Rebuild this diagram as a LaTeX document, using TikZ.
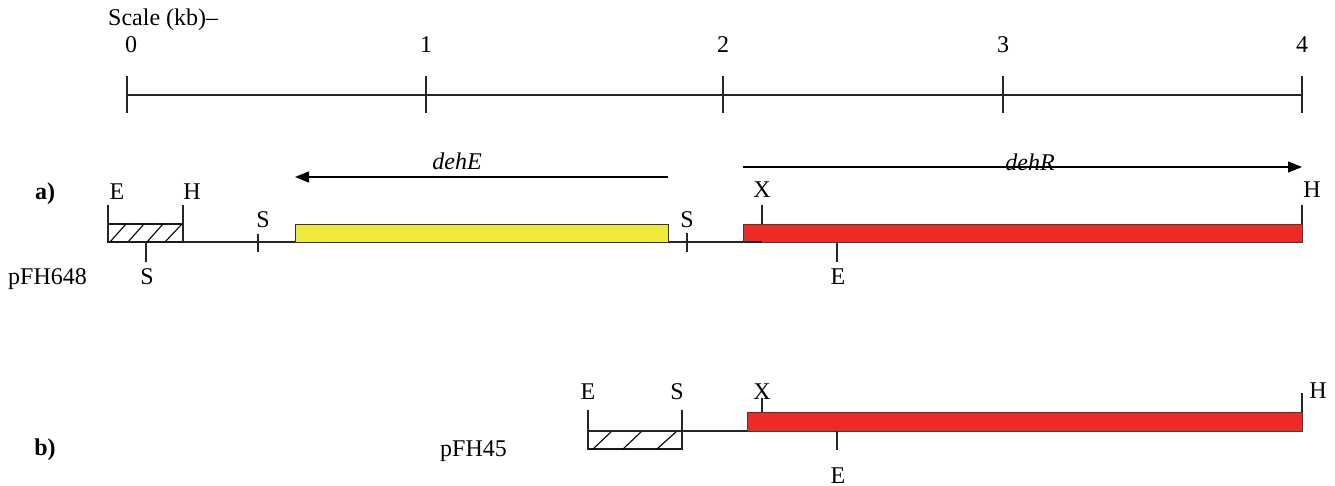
\documentclass[tikz,border=0pt]{standalone}
\usepackage{fontspec}
\setmainfont{Liberation Serif}
\usetikzlibrary{arrows.meta}
\definecolor{geneyellow}{HTML}{F0E93C}
\definecolor{genered}{HTML}{EE2A26}
\definecolor{rededge}{HTML}{404030}
\begin{document}
\begin{tikzpicture}[x=1pt,y=-1pt,font=\fontsize{24}{28}\selectfont,
  lbl/.style={inner sep=0pt,anchor=base},
  ln/.style={line width=1.3pt,draw=black!85},
  tickln/.style={line width=1.3pt,draw=black!85},
  hatchbox/.style={line width=1.3pt,draw=black!90,fill=white},
  yellowbox/.style={line width=1.3pt,draw=black!80,fill=geneyellow},
  redbox/.style={line width=1.3pt,draw=rededge,fill=genered},
  hatch/.style={line width=1.1pt,draw=black},
  genearrow/.style={line width=1.3pt,draw=black,-{Triangle[length=14pt,width=11pt]}}]
\useasboundingbox (0,0) rectangle (1335,486);

% ---------- scale ----------
\node[lbl,anchor=base west] (scaletitle) at (108,26) {Scale (kb)\textendash};
\node[lbl] (n0) at (131,53) {0};
\node[lbl] (n1) at (426,53) {1};
\node[lbl] (n2) at (723,53) {2};
\node[lbl] (n3) at (1003,53) {3};
\node[lbl] (n4) at (1302,53) {4};
\coordinate (s0) at (127,95);
\coordinate (s4) at (1302,95);
\draw[ln] (s0) -- (s4);
\foreach \x in {127,426,723,1003,1302}{\draw[tickln] (\x,76) -- (\x,113);}

% ---------- a) pFH648 ----------
\node[lbl,font=\fontsize{24}{28}\selectfont\bfseries] (la) at (45,200) {a)};
\node[lbl,anchor=base west] (p648) at (8,284) {pFH648};

% backbone
\coordinate (bbA1) at (108,242);
\coordinate (bbA2) at (762,242);
\draw[ln] (bbA1) -- (bbA2);

% hatched box
\draw[hatchbox] (108,224) rectangle (183,242);
\foreach \b/\t in {110/126,128/144,147/163,165/182}{\draw[hatch] (\b,242) -- (\t,224);}
\draw[tickln] (108,205) -- (108,242);
\draw[tickln] (183,205) -- (183,242);
\node[lbl] (aE1) at (117,200) {E};
\node[lbl] (aH1) at (192,200) {H};
\draw[tickln] (146,242) -- (146,262);
\node[lbl] (aS1) at (147,284) {S};

% S site
\draw[tickln] (258,234) -- (258,252);
\node[lbl] (aS2) at (263,228) {S};

% yellow gene
\node[yellowbox,minimum width=373pt,minimum height=18pt,inner sep=0pt,anchor=north west] (dehEbox) at (295,224) {};
\draw[genearrow] (668,177) -- (295,177);
\node[lbl,font=\fontsize{24}{28}\selectfont\itshape] (dehE) at (457,170) {dehE};

% S site right
\draw[tickln] (687,233) -- (687,252);
\node[lbl] (aS3) at (687,228) {S};

% red gene
\node[redbox,minimum width=559pt,minimum height=18pt,inner sep=0pt,anchor=north west] (dehRbox) at (743,224) {};
\draw[tickln] (743,242) -- (762,242);
\draw[genearrow] (743,167) -- (1302,167);
\node[lbl,font=\fontsize{24}{28}\selectfont\itshape] (dehR) at (1030,171) {dehR};
\draw[tickln] (762,205) -- (762,224);
\node[lbl] (aX) at (762,198) {X};
\draw[tickln] (837,243) -- (837,262);
\node[lbl] (aE2) at (838,284) {E};
\draw[tickln] (1302,205) -- (1302,224);
\node[lbl] (aH2) at (1312,198) {H};

% ---------- b) pFH45 ----------
\node[lbl,font=\fontsize{24}{28}\selectfont\bfseries] (lb) at (45,455) {b)};
\node[lbl,anchor=base west] (p45) at (440,456) {pFH45};

\coordinate (bbB1) at (588,431);
\coordinate (bbB2) at (747,431);
\draw[hatchbox] (588,431) rectangle (682,449);
\foreach \b/\t in {593/612,623/642,657/677}{\draw[hatch] (\b,449) -- (\t,431);}
\draw[ln] (bbB1) -- (bbB2);
\draw[tickln] (588,410) -- (588,449);
\draw[tickln] (682,410) -- (682,449);
\node[lbl] (bE1) at (588,399) {E};
\node[lbl] (bS1) at (677,399) {S};

\node[redbox,minimum width=555pt,minimum height=19pt,inner sep=0pt,anchor=north west] (dehRboxB) at (747,412) {};
\draw[tickln] (762,398) -- (762,412);
\node[lbl] (bX) at (762,399) {X};
\draw[tickln] (837,431) -- (837,450);
\node[lbl] (bE2) at (838,483) {E};
\draw[tickln] (1302,393) -- (1302,412);
\node[lbl] (bH) at (1318,398) {H};
\end{tikzpicture}
\end{document}
